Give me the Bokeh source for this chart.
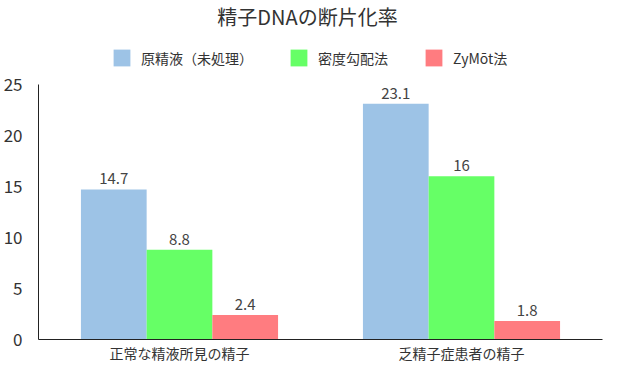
from bokeh.plotting import figure
from bokeh.models import ColumnDataSource, Legend, LegendItem, FactorRange, FixedTicker, Label
from bokeh.transform import dodge
from bokeh.core.properties import value
from bokeh.embed import file_html
from bokeh.resources import INLINE

categories = ["正常な精液所見の精子", "乏精子症患者の精子"]
series_names = ["原精液（未処理）", "密度勾配法", "ZyMōt法"]
raw_semen = [14.7, 23.1]
density_gradient = [8.8, 16]
zymot = [2.4, 1.8]
colors = ["#9DC3E6", "#66FF66", "#FF7C80"]
y_ticks = [0, 5, 10, 15, 20, 25]
title_text = "精子DNAの断片化率"

FONT = "Noto Sans CJK JP"
TXT = "#333333"

def fmt(v):
    return f"{v:g}"

src = ColumnDataSource(dict(
    cat=categories,
    raw=raw_semen, dens=density_gradient, zym=zymot,
    raw_l=[fmt(v) for v in raw_semen],
    dens_l=[fmt(v) for v in density_gradient],
    zym_l=[fmt(v) for v in zymot],
))

FRAME_H = 340          # expected frame height in px
PX_PER_UNIT = 256 / 25
y_top = FRAME_H / PX_PER_UNIT

p = figure(width=604, height=365, x_range=FactorRange(*categories, range_padding=0),
           y_range=(0, y_top), output_backend="svg", toolbar_location=None,
           min_border_left=0, min_border_right=2, min_border_top=0, min_border_bottom=0)
p.title = None

bw = 0.233
renderers = []
for off, col, lab, c in [(-bw, "raw", "raw_l", colors[0]), (0, "dens", "dens_l", colors[1]), (bw, "zym", "zym_l", colors[2])]:
    r = p.vbar(x=dodge("cat", off, range=p.x_range), top=col, width=bw, bottom=0,
               source=src, fill_color=c, line_color=None)
    renderers.append(r)
    p.text(x=dodge("cat", off, range=p.x_range), y=col, text=lab, source=src,
           text_align="center", text_baseline="bottom", y_offset=-5,
           text_font=value(FONT), text_font_size="15px", text_color="#444444")

legend = Legend(items=[LegendItem(label=n, renderers=[r]) for n, r in zip(series_names, renderers)],
                orientation="horizontal", location=(73, 271),
                label_text_font=FONT, label_text_font_size="14px", label_text_color=TXT,
                glyph_width=21, glyph_height=21, label_height=21, spacing=35, label_standoff=9,
                border_line_color=None, background_fill_alpha=0, padding=4, margin=0)
p.add_layout(legend, "center")

p.add_layout(Label(x=1.0, y=y_top - 16 / PX_PER_UNIT, x_offset=-13, text=title_text,
                   text_align="center", text_baseline="middle", text_font=FONT,
                   text_font_size="20px", text_color=TXT))

p.xgrid.grid_line_color = None
p.ygrid.grid_line_color = None
p.outline_line_color = None

p.yaxis.ticker = FixedTicker(ticks=y_ticks)
p.yaxis.bounds = (y_ticks[0], y_ticks[-1])
p.yaxis.major_tick_line_color = None
p.yaxis.minor_tick_line_color = None
p.yaxis.major_label_standoff = 10
p.yaxis.major_label_text_font = FONT
p.yaxis.major_label_text_font_size = "17px"
p.yaxis.major_label_text_color = TXT
p.yaxis.axis_line_color = "#222222"

p.xaxis.major_tick_line_color = None
p.xaxis.minor_tick_line_color = None
p.xaxis.major_tick_out = 0
p.xaxis.major_tick_in = 0
p.xaxis.major_label_standoff = 3
p.xaxis.major_label_text_font = FONT
p.xaxis.major_label_text_font_size = "14px"
p.xaxis.major_label_text_color = TXT
p.xaxis.axis_line_color = "#222222"

open("out.html", "w").write(file_html(p, INLINE))
